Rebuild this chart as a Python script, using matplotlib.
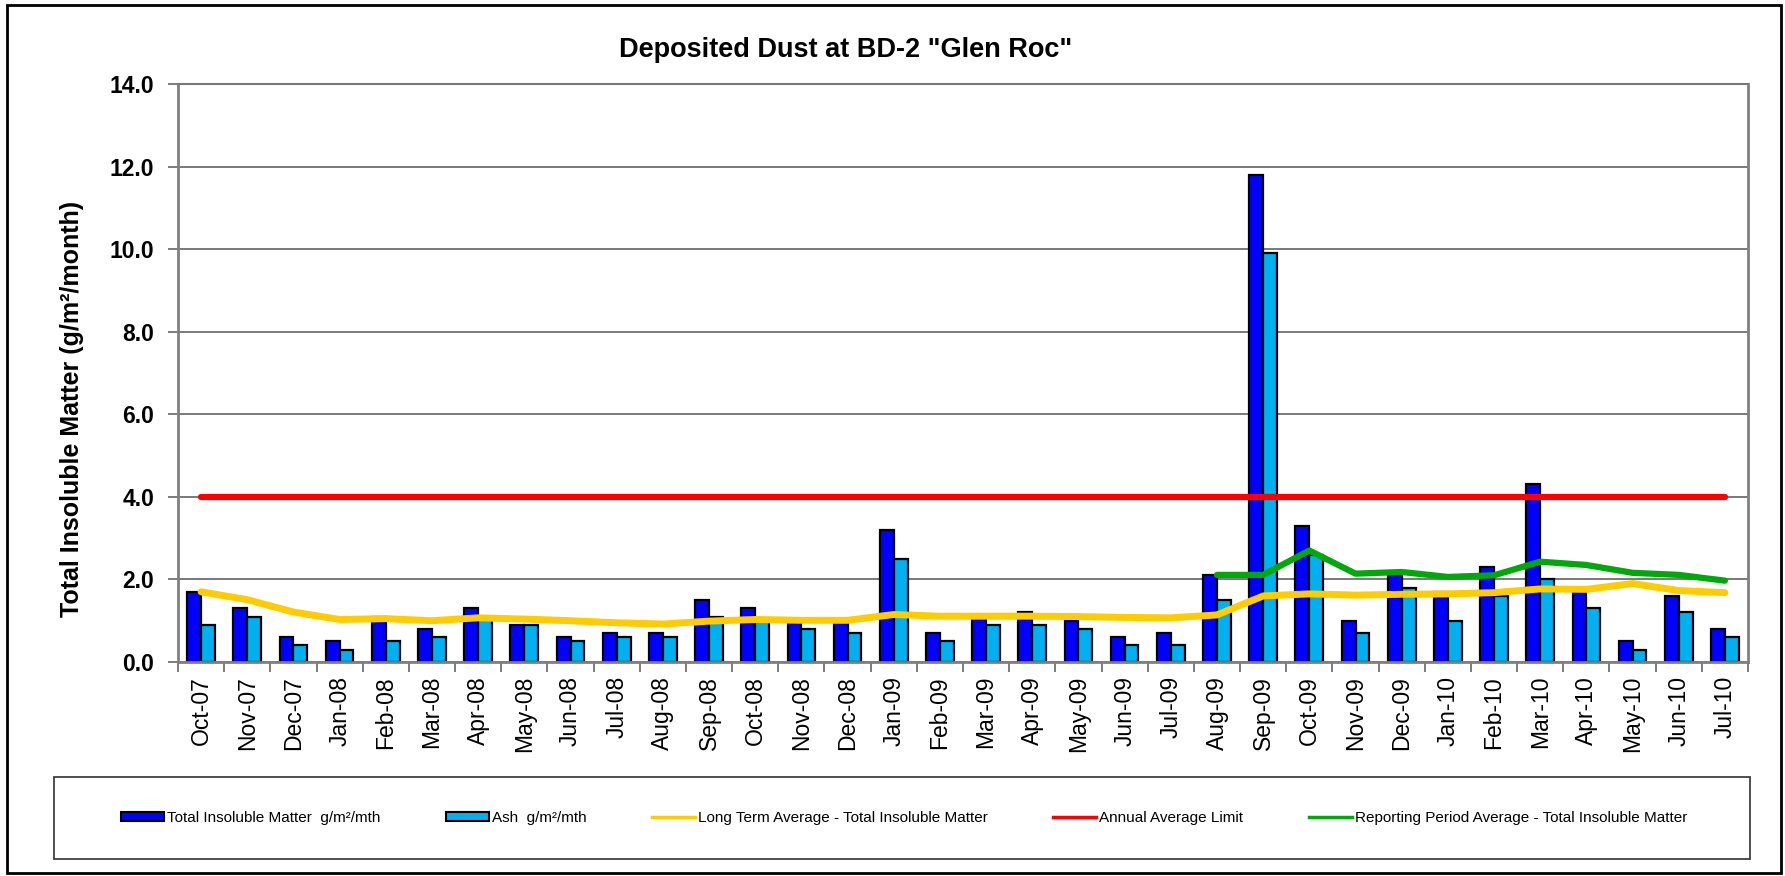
import numpy as np
import matplotlib
matplotlib.use('Agg')
import matplotlib.pyplot as plt
from matplotlib.patches import Rectangle, Patch
from matplotlib.lines import Line2D

plt.rcParams['font.family'] = ['Liberation Sans', 'DejaVu Sans']

months = ['Oct-07', 'Nov-07', 'Dec-07',
          'Jan-08', 'Feb-08', 'Mar-08', 'Apr-08', 'May-08', 'Jun-08',
          'Jul-08', 'Aug-08', 'Sep-08', 'Oct-08', 'Nov-08', 'Dec-08',
          'Jan-09', 'Feb-09', 'Mar-09', 'Apr-09', 'May-09', 'Jun-09',
          'Jul-09', 'Aug-09', 'Sep-09', 'Oct-09', 'Nov-09', 'Dec-09',
          'Jan-10', 'Feb-10', 'Mar-10', 'Apr-10', 'May-10', 'Jun-10', 'Jul-10']

total_insoluble = [1.7, 1.3, 0.6, 0.5, 1.1, 0.8, 1.3, 0.9, 0.6, 0.7, 0.7, 1.5,
                   1.3, 1.0, 1.0, 3.2, 0.7, 1.1, 1.2, 1.0, 0.6, 0.7, 2.1, 11.8,
                   3.3, 1.0, 2.1, 1.7, 2.3, 4.3, 1.8, 0.5, 1.6, 0.8]

ash = [0.9, 1.1, 0.4, 0.3, 0.5, 0.6, 1.1, 0.9, 0.5, 0.6, 0.6, 1.1,
       1.0, 0.8, 0.7, 2.5, 0.5, 0.9, 0.9, 0.8, 0.4, 0.4, 1.5, 9.9,
       2.6, 0.7, 1.8, 1.0, 1.6, 2.0, 1.3, 0.3, 1.2, 0.6]

long_term_avg = [1.70, 1.51, 1.21, 1.03, 1.05, 1.00, 1.07, 1.04, 1.00, 0.95,
                 0.92, 0.99, 1.03, 1.01, 1.01, 1.15, 1.11, 1.11, 1.11, 1.10,
                 1.08, 1.07, 1.14, 1.60, 1.65, 1.62, 1.64, 1.65, 1.68, 1.77,
                 1.76, 1.90, 1.73, 1.68]

annual_limit = [4.0] * len(months)

# reporting period starts at Aug-09
report_start = 'Aug-09'
report_avg = [2.11, 2.11, 2.70, 2.14, 2.18, 2.06, 2.10, 2.43, 2.35, 2.16, 2.11, 1.97]

labels = ['Total Insoluble Matter  g/m\u00b2/mth', 'Ash  g/m\u00b2/mth',
          'Long Term Average - Total Insoluble Matter', 'Annual Average Limit',
          'Reporting Period Average - Total Insoluble Matter']

c_tim = '#0000FF'
c_ash = '#00B0F0'
c_lta = '#FFCC00'
c_lim = '#FF0000'
c_rep = '#00A80C'

W, H = 1785, 876
fig = plt.figure(figsize=(W / 100, H / 100), dpi=100)
ax = fig.add_axes([178 / W, 1 - 662 / H, 1570 / W, 578 / H])

x = np.arange(len(months))
bw = 0.3
ax.bar(x - bw / 2, total_insoluble, bw, color=c_tim, edgecolor='black', linewidth=1.6, zorder=2)
ax.bar(x + bw / 2, ash, bw, color=c_ash, edgecolor='black', linewidth=1.6, zorder=2)

ax.plot(x, long_term_avg, color=c_lta, lw=5, solid_capstyle='round', solid_joinstyle='round', zorder=3)
ax.plot(x, annual_limit, color=c_lim, lw=4.5, solid_capstyle='round', zorder=3)
i0 = months.index(report_start)
ax.plot(x[i0:], report_avg, color=c_rep, lw=4.5, solid_capstyle='round', solid_joinstyle='round', zorder=4)

ax.set_xlim(-0.5, len(months) - 0.5)
ax.set_ylim(0, 14)
ax.set_yticks(np.arange(0, 15, 2))
ax.set_yticklabels(['%.1f' % v for v in np.arange(0, 15, 2)], fontweight='bold', fontsize=16.5)
ax.yaxis.grid(True, color='#555555', lw=1.1, zorder=0)
ax.set_axisbelow(True)

ax.set_xticks(x)
ax.set_xticklabels(months, rotation=90, fontsize=16.5)
ax.set_xticks(np.arange(-0.5, len(months), 1), minor=True)
ax.tick_params(axis='x', which='major', length=0, pad=10)
ax.tick_params(axis='x', which='minor', length=7, color='#666666', width=1.2)
ax.tick_params(axis='y', length=7, color='#666666', width=1.2, pad=10)

for s in ['left', 'bottom', 'right']:
    ax.spines[s].set_color('#808080')
    ax.spines[s].set_linewidth(2)
ax.spines['top'].set_color('#777777')
ax.spines['top'].set_linewidth(1.5)

fig.text(72 / W, 1 - 409 / H, 'Total Insoluble Matter (g/m\u00b2/month)', fontsize=18,
         fontweight='bold', rotation=90, ha='center', va='center')

fig.text(846 / W, 1 - 50 / H, 'Deposited Dust at BD-2 "Glen Roc"', fontsize=19.5,
         fontweight='bold', ha='center', va='center')

# outer chart border and legend box
fig.add_artist(Rectangle((7 / W, 3 / H), 1774 / W, 868 / H, transform=fig.transFigure,
                         fill=False, ec='black', lw=2))
fig.add_artist(Rectangle((54 / W, 1 - 859 / H), 1696 / W, 82 / H, transform=fig.transFigure,
                         fill=False, ec='#404040', lw=1.3))

handles = [Patch(facecolor=c_tim, edgecolor='black', lw=1.5),
           Patch(facecolor=c_ash, edgecolor='black', lw=1.5),
           Line2D([], [], color=c_lta, lw=2.5),
           Line2D([], [], color=c_lim, lw=2.5),
           Line2D([], [], color=c_rep, lw=2.5)]
fig.legend(handles, labels, ncol=5, loc='center', bbox_to_anchor=(904 / W, 1 - 818 / H),
           frameon=False, fontsize=11, handlelength=2.8, handleheight=0.6,
           handletextpad=0.2, columnspacing=4.3)

fig.savefig('out.png', dpi=100)
